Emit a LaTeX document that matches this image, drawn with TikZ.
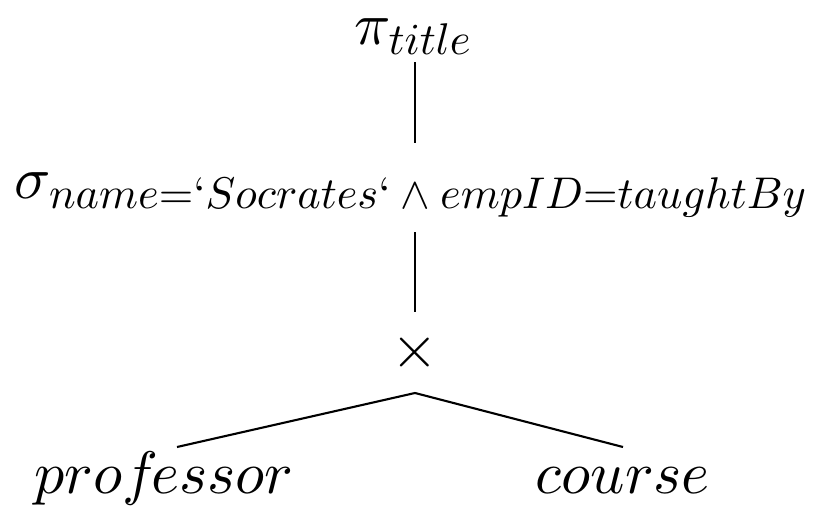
\documentclass[tikz,border=0pt]{standalone}
\usepackage{graphicx}
\newcommand{\subsc}[1]{\scalebox{0.74}{$#1$}}
\begin{document}
\begin{tikzpicture}[x=0.16667pt,y=-0.16667pt,
  lbl/.style={inner sep=0pt,anchor=base},
  edge/.style={line width=0.35pt}]
\useasboundingbox (0,0) rectangle (823,522);
\node[lbl] (pi) at (414,44) {$\pi_{\subsc{title}}$};
\node[lbl] (sigma) at (412,198) {$\sigma_{\subsc{name{=}`Socrates`\land empID{=}taughtBy}}$};
\node[inner sep=0pt] (times) at (415,352) {$\times$};
\node[lbl] (prof) at (164,493) {$prof\mkern-2mu essor$};
\node[lbl] (course) at (623,493) {$course$};
\coordinate (split) at ([yshift=-6.83pt]times.center);
\draw[edge,shorten <=3pt,shorten >=9.17pt] (pi.base -| times.center) -- (sigma.base -| times.center);
\draw[edge,shorten <=5.67pt,shorten >=6.67pt] (sigma.base -| times.center) -- (times.center);
\draw[edge] (split) -- ([shift={(13,-46)}]prof.base);
\draw[edge] (split) -- ([shift={(0,-46)}]course.base);
\end{tikzpicture}
\end{document}
